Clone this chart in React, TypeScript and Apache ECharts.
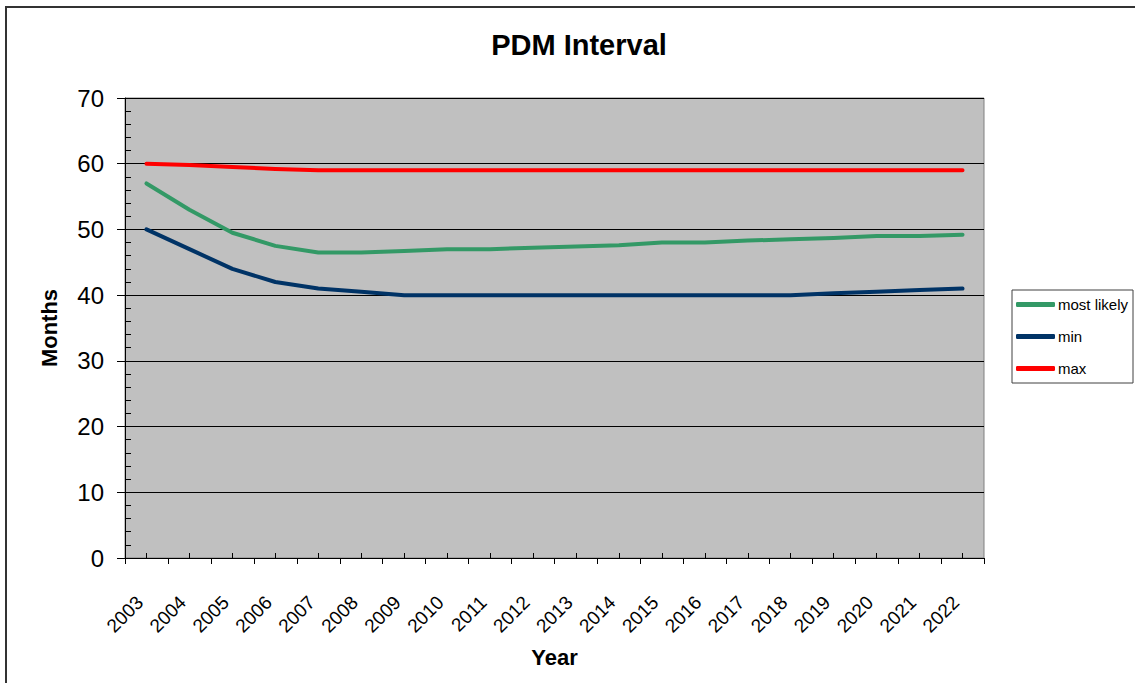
import React, { useEffect, useRef } from "react";
import * as echarts from "echarts";

const years = ["2003","2004","2005","2006","2007","2008","2009","2010","2011","2012","2013","2014","2015","2016","2017","2018","2019","2020","2021","2022"];
const mostLikely = [57, 53, 49.5, 47.5, 46.5, 46.5, 46.7, 47, 47, 47.2, 47.4, 47.6, 48, 48, 48.3, 48.5, 48.7, 49, 49, 49.2];
const minVals = [50, 47, 44, 42, 41, 40.5, 40, 40, 40, 40, 40, 40, 40, 40, 40, 40, 40.3, 40.5, 40.8, 41];
const maxVals = [60, 59.8, 59.5, 59.2, 59, 59, 59, 59, 59, 59, 59, 59, 59, 59, 59, 59, 59, 59, 59, 59];
const yTicks = { min: 0, max: 70, step: 10, minorStep: 2 };

const FONT = "'Liberation Sans', Arial, sans-serif";

export default function App() {
  const ref = useRef<HTMLDivElement>(null);
  useEffect(() => {
    if (!ref.current) return;
    const chart = echarts.init(ref.current, undefined, { renderer: "svg" });
    chart.setOption({
      animation: false,
      backgroundColor: "#ffffff",
      textStyle: { fontFamily: FONT },
      title: {
        text: "PDM Interval",
        left: 574,
        textAlign: "center",
        top: 25,
        textStyle: { fontFamily: FONT, fontSize: 29, fontWeight: "bold", color: "#000" },
      },
      graphic: [
        {
          type: "rect",
          shape: { x: 6, y: 7, width: 1140, height: 700 },
          style: { fill: "none", stroke: "#333", lineWidth: 2 },
          silent: true,
          z: 100,
        },
      ],
      legend: {
        orient: "vertical",
        left: 1012,
        top: 290,
        padding: [7, 5, 7, 4],
        itemGap: 17,
        itemWidth: 39,
        itemHeight: 5,
        icon: "roundRect",
        borderColor: "#404040",
        borderWidth: 1,
        backgroundColor: "#fff",
        textStyle: { fontFamily: FONT, fontSize: 15, color: "#000", padding: [0, 0, 0, -2] },
        data: ["most likely", "min", "max"],
      },
      grid: {
        left: 125,
        top: 98,
        right: 151,
        bottom: 125,
        show: true,
        backgroundColor: "#C0C0C0",
        borderColor: "#808080",
        borderWidth: 1,
      },
      xAxis: [
        {
          type: "category",
          data: years,
          boundaryGap: true,
          name: "Year",
          nameLocation: "middle",
          nameGap: 88,
          nameTextStyle: { fontFamily: FONT, fontSize: 22, fontWeight: "bold", color: "#000" },
          axisLine: { show: true, lineStyle: { color: "#000", width: 1 } },
          axisTick: { show: true, inside: false, length: 6, lineStyle: { color: "#000" } },
          axisLabel: {
            interval: 0,
            rotate: 45,
            margin: 48,
            verticalAlign: "bottom",
            fontFamily: FONT,
            fontSize: 19,
            color: "#000",
          },
          splitLine: { show: false },
        },
        {
          type: "category",
          data: years,
          boundaryGap: true,
          position: "bottom",
          axisLine: { show: false },
          axisTick: { show: true, inside: true, alignWithLabel: true, length: 5, lineStyle: { color: "#000" } },
          axisLabel: { show: false },
          splitLine: { show: false },
        },
      ],
      yAxis: [
        {
          type: "value",
          min: yTicks.min,
          max: yTicks.max,
          interval: yTicks.step,
          name: "Months",
          nameLocation: "middle",
          nameRotate: 90,
          nameGap: 65,
          nameTextStyle: { fontFamily: FONT, fontSize: 22, fontWeight: "bold", color: "#000" },
          axisLine: { show: true, lineStyle: { color: "#000", width: 1 } },
          axisTick: { show: true, inside: false, length: 8, lineStyle: { color: "#000" } },
          axisLabel: { margin: 21, fontFamily: FONT, fontSize: 24, color: "#000" },
          splitLine: { show: true, lineStyle: { color: "#000", width: 1 } },
        },
        {
          type: "value",
          min: yTicks.min,
          max: yTicks.max,
          interval: yTicks.minorStep,
          position: "left",
          axisLine: { show: false },
          axisTick: { show: true, inside: true, length: 6, lineStyle: { color: "#000" } },
          axisLabel: { show: false },
          splitLine: { show: false },
        },
      ],
      series: [
        {
          name: "most likely",
          type: "line",
          data: mostLikely,
          showSymbol: false,
          symbol: "none",
          color: "#339966",
          lineStyle: { width: 4, color: "#339966", cap: "round", join: "round" },
        },
        {
          name: "min",
          type: "line",
          data: minVals,
          showSymbol: false,
          symbol: "none",
          color: "#003366",
          lineStyle: { width: 4, color: "#003366", cap: "round", join: "round" },
        },
        {
          name: "max",
          type: "line",
          data: maxVals,
          showSymbol: false,
          symbol: "none",
          color: "#FF0000",
          lineStyle: { width: 4, color: "#FF0000", cap: "round", join: "round" },
        },
      ],
    });
    return () => chart.dispose();
  }, []);
  return (
    <div
      ref={ref}
      style={{ position: "absolute", left: 0, top: 0, width: 1135, height: 683 }}
    />
  );
}
